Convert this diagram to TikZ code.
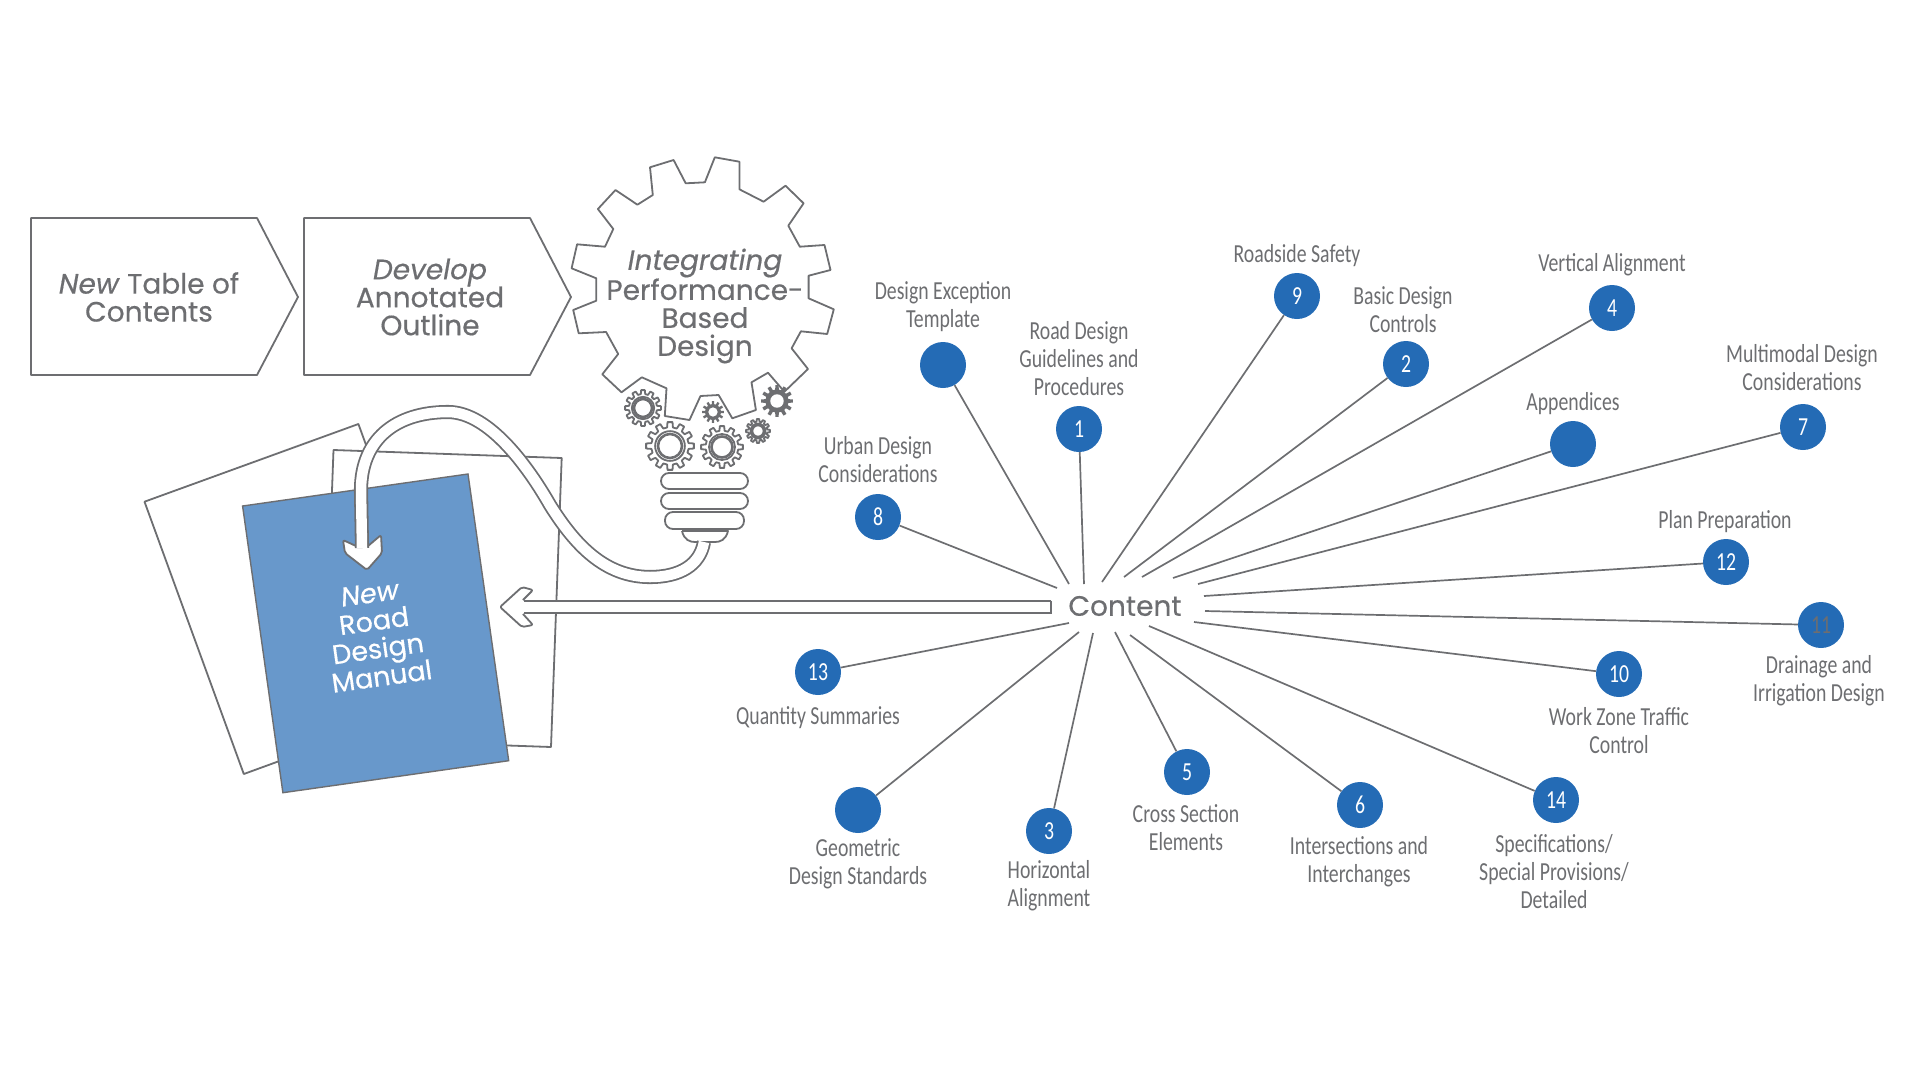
\documentclass[tikz,border=0pt]{standalone}
\usepackage{fontspec}
\usetikzlibrary{positioning}
\newfontfamily\labelfont[FakeStretch=0.76]{Carlito}
\newfontfamily\headfont[FakeBold=0.45]{Poppins}
\definecolor{inkgray}{HTML}{6d6e71}
\definecolor{topicblue}{HTML}{246bb5}
\definecolor{manualblue}{HTML}{6898cb}
\tikzset{
    outline/.style={draw=inkgray, line width=1.8, line join=round},
    spoke/.style={draw=inkgray, line width=1.7},
    topic/.style={circle, fill=topicblue, minimum size=46, inner sep=0, text=white, font=\labelfont\fontsize{26}{28}\selectfont},
    caption/.style={align=center, inner sep=0, text=inkgray, font=\labelfont\fontsize{26}{28}\selectfont},
    heading/.style={align=center, inner sep=0, text=inkgray, font=\headfont\fontsize{28}{28}\selectfont},
    band/.style={draw=inkgray, line width=1.8, double=white, double distance=10.5},
}
\newcommand{\opencog}[3]{
    \begin{scope}[shift={(#1,#2)}, scale=#3]
        \draw[outline, fill=white] (-9:0.78) \foreach \a in {0,30,...,330} { -- (\a-9:0.78) -- (\a-6:1) -- (\a+6:1) -- (\a+9:0.78) } -- cycle;
        \draw[outline] (0,0) circle (0.62);
        \draw[outline, line width=2.6] (0,0) circle (0.5);
    \end{scope}
}
\newcommand{\solidcog}[3]{
    \begin{scope}[shift={(#1,#2)}, scale=#3]
        \fill[inkgray] (-9:0.72) \foreach \a in {0,30,...,330} { -- (\a-9:0.72) -- (\a-6:1) -- (\a+6:1) -- (\a+9:0.72) } -- cycle;
        \fill[white] (0,0) circle (0.42);
    \end{scope}
}

\begin{document}
\begin{tikzpicture}[x=1pt, y=-1pt]
    \useasboundingbox (0,0) rectangle (1920,1080);

    % chevrons
    \draw[outline] (31,218) -- (257,218) -- (298,297) -- (257,375) -- (31,375) -- cycle;
    \draw[outline] (304,218) -- (530,218) -- (571,297) -- (530,375) -- (304,375) -- cycle;
    \node[heading] (toc) at (149,297) {\textit{New} Table of\\Contents};
    \node[heading] (outline) at (430,297) {\textit{Develop}\\Annotated\\Outline};

    % bulb
    \draw[outline] (714.8,157.3) -- (739.4,161.7) -- (739.4,189.3) -- (763.6,201.7) -- (785.5,185.7) -- (803.6,203.3) -- (788.3,225.7) -- (799.8,246.7) -- (824.5,245) -- (830.5,270) -- (808.6,275.7) -- (808.6,298.3) -- (833.8,309.3) -- (827.2,334) -- (800.9,331.3) -- (791.6,348.3) -- (808,369) -- (784.4,391.7) -- (768,372.7) -- (751.5,382.3) -- (755.9,410) -- (732.3,418.3) -- (718.6,395) -- (700.5,396) -- (689.5,420) -- (664.8,416) -- (666.5,388.3) -- (641.8,377.3) -- (621.5,392.3) -- (602.3,374.3) -- (618.2,354) -- (606.1,332) -- (578.7,333.3) -- (573.2,310) -- (596.3,300.7) -- (596.3,278.3) -- (571.6,268.3) -- (577.1,244.3) -- (605,246.7) -- (613.3,229) -- (597.9,209) -- (615.5,190) -- (637.4,204.7) -- (652.8,195) -- (650,167.3) -- (673.6,160) -- (685.7,183.3) -- (704.9,182.3) -- cycle;
    \node[heading] (integrating) at (705,306) {\textit{Integrating}\\Performance-\\Based\\Design};

    \opencog{643}{408}{18}
    \opencog{670}{446}{24}
    \opencog{722}{447}{21}
    \opencog{758}{431}{12}
    \solidcog{713}{412}{11}
    \solidcog{777}{401}{16}

    \draw[outline, rounded corners=8] (661,473) rectangle (748,489);
    \draw[outline, rounded corners=8] (661,493) rectangle (748,509);
    \draw[outline, rounded corners=8] (665,512) rectangle (744,529);
    \draw[outline] (682,531) -- (728,531) .. controls (726,540) and (720,542) .. (715,542) -- (695,542) .. controls (690,542) and (684,540) .. (682,531);

    % sheets
    \draw[outline, fill=white] (358.4,424) -- (144.5,501.7) -- (243.8,774) -- (457.7,696) -- cycle;
    \draw[outline, fill=white] (333.5,450) -- (561.7,458) -- (551,747) -- (322.8,739) -- cycle;
    \draw[draw=inkgray, line width=1.4, fill=manualblue] (242.6,506) -- (468,474) -- (508.7,760.7) -- (282.9,792.7) -- cycle;
    \node[heading, text=white, rotate=8, font=\headfont\fontsize{27}{28}\selectfont] (manual) at (376,635) {\textit{New}\\Road\\Design\\Manual};

    % curved arrow
    \coordinate (wirestart) at (704,542);
    \coordinate (wireend) at (362,548);
    \draw[outline, fill=white, rounded corners=2] (368,546) -- (381,535) -- (382,553) -- (367,570) -- (345,553) -- (343,540) -- (356,546);
    \draw[band] (wirestart) .. controls (700,565) and (680,577) .. (650,577) .. controls (605,577) and (575,545) .. (550,505) .. controls (530,470) and (490,412) .. (448,412) .. controls (395,412) and (361,440) .. (361,490) -- (wireend);

    % content and its arrow
    \node[heading, font=\headfont\fontsize{28}{28}\selectfont] (content) at (1125,606) {Content};
    \coordinate (arrowtail) at (1051,607);
    \coordinate (arrowneck) at (524,607);
    \draw[outline, fill=white, rounded corners=2] (523,600) -- (533,590) -- (522,587) -- (500,607) -- (522,627) -- (533,625) -- (523,614);
    \draw[band] (arrowtail) -- (arrowneck);
    \draw[outline] (arrowtail) +(0,-6.5) -- +(0,6.5);

    % topics
    \node[topic] (n1) at (1079,429) {1};
    \node[topic] (n2) at (1406,364) {2};
    \node[topic] (n3) at (1049,831) {3};
    \node[topic] (n4) at (1612,308) {4};
    \node[topic] (n5) at (1187,772) {5};
    \node[topic] (n6) at (1360,805) {6};
    \node[topic] (n7) at (1803,427) {7};
    \node[topic] (n8) at (878,517) {8};
    \node[topic] (n9) at (1297,296) {9};
    \node[topic] (n10) at (1619,674) {10};
    \node[topic, text=inkgray] (n11) at (1821,625) {11};
    \node[topic] (n12) at (1726,562) {12};
    \node[topic] (n13) at (818,672) {13};
    \node[topic] (n14) at (1556,800) {14};
    \node[topic] (exception) at (943,365) {};
    \node[topic] (appendices) at (1573,444) {};
    \node[topic] (geometric) at (858,810) {};

    \node[caption] (l1) at (1079,359) {Road Design\\Guidelines and\\Procedures};
    \node[caption] (l2) at (1403,310) {Basic Design\\Controls};
    \node[caption] (l3) at (1049,886) {Horizontal\\Alignment};
    \node[caption] (l4) at (1612,265) {Vertical Alignment};
    \node[caption] (l5) at (1186,828) {Cross Section\\Elements};
    \node[caption] (l6) at (1359,862) {Intersections and\\Interchanges};
    \node[caption] (l7) at (1802,368) {Multimodal Design\\Considerations};
    \node[caption] (l8) at (878,460) {Urban Design\\Considerations};
    \node[caption] (l9) at (1297,256) {Roadside Safety};
    \node[caption] (l10) at (1619,731) {Work Zone Traffic\\Control};
    \node[caption] (l11) at (1819,681) {Drainage and\\Irrigation Design};
    \node[caption] (l12) at (1725,522) {Plan Preparation};
    \node[caption] (l13) at (818,718) {Quantity Summaries};
    \node[caption] (l14) at (1554,872) {Specifications/\\Special Provisions/\\Detailed};
    \node[caption] (lexception) at (943,307) {Design Exception\\Template};
    \node[caption] (lappendices) at (1573,404) {Appendices};
    \node[caption] (lgeometric) at (858,864) {Geometric\\Design Standards};

    \coordinate (c1) at (1084,584);
    \coordinate (c2) at (1124,577);
    \coordinate (c3) at (1093,633);
    \coordinate (c4) at (1142,577);
    \coordinate (c5) at (1115,632);
    \coordinate (c6) at (1130,635);
    \coordinate (c7) at (1198,584);
    \coordinate (c8) at (1057,588);
    \coordinate (c9) at (1102,582);
    \coordinate (c10) at (1194,622);
    \coordinate (c11) at (1205,611);
    \coordinate (c12) at (1204,596);
    \coordinate (c13) at (1069,623);
    \coordinate (c14) at (1149,626);
    \coordinate (cexception) at (1069,584);
    \coordinate (cappendices) at (1173,578);
    \coordinate (cgeometric) at (1079,632);

    \draw[spoke] (n1) -- (c1);
    \draw[spoke] (n2) -- (c2);
    \draw[spoke] (n3) -- (c3);
    \draw[spoke] (n4) -- (c4);
    \draw[spoke] (n5) -- (c5);
    \draw[spoke] (n6) -- (c6);
    \draw[spoke] (n7) -- (c7);
    \draw[spoke] (n8) -- (c8);
    \draw[spoke] (n9) -- (c9);
    \draw[spoke] (n10) -- (c10);
    \draw[spoke] (n11) -- (c11);
    \draw[spoke] (n12) -- (c12);
    \draw[spoke] (n13) -- (c13);
    \draw[spoke] (n14) -- (c14);
    \draw[spoke] (exception) -- (cexception);
    \draw[spoke] (appendices) -- (cappendices);
    \draw[spoke] (geometric) -- (cgeometric);
\end{tikzpicture}
\end{document}
